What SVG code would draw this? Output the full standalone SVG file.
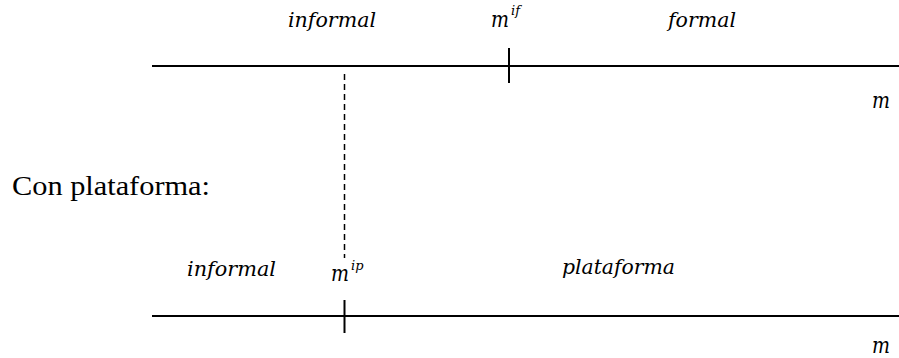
<svg xmlns="http://www.w3.org/2000/svg" width="899" height="358" viewBox="0 0 899 358">
<style>
.ax{stroke:#000;stroke-width:2;fill:none}
.dash{stroke:#000;stroke-width:1.5;stroke-dasharray:6 4;fill:none}
.mi{font-family:"DejaVu Serif","Liberation Serif",serif;font-style:italic;font-size:20px;fill:#000}
.mm{font-family:"DejaVu Serif","Liberation Serif",serif;font-style:italic;font-size:22px;fill:#000}
.sup{font-family:"DejaVu Serif","Liberation Serif",serif;font-style:italic;font-size:13px;fill:#000}
.rm{font-family:"Liberation Serif","DejaVu Serif",serif;font-size:27px;fill:#000}
</style>
<rect width="899" height="358" fill="#fff"/>
<g id="connectors">
<line class="ax" x1="152" y1="66" x2="899" y2="66"/>
<line class="ax" x1="509" y1="48" x2="509" y2="83"/>
<line class="dash" x1="344.5" y1="74" x2="344.5" y2="258"/>
<line class="ax" x1="152" y1="316" x2="899" y2="316"/>
<line class="ax" x1="344.5" y1="300" x2="344.5" y2="333"/>
</g>
<g id="top-axis">
<text class="mi" x="288" y="27" textLength="88" lengthAdjust="spacingAndGlyphs">informal</text>
<text class="mm" x="491" y="27" textLength="18" lengthAdjust="spacingAndGlyphs">m</text>
<text class="sup" x="511" y="15">if</text>
<text class="mi" x="668" y="27" textLength="68" lengthAdjust="spacingAndGlyphs">formal</text>
<text class="mm" x="872" y="108" textLength="18" lengthAdjust="spacingAndGlyphs">m</text>
</g>
<g id="label">
<text class="rm" x="12" y="195" textLength="198" lengthAdjust="spacingAndGlyphs">Con plataforma:</text>
</g>
<g id="bottom-axis">
<text class="mi" x="187" y="276" textLength="89" lengthAdjust="spacingAndGlyphs">informal</text>
<text class="mm" x="331" y="281" textLength="18" lengthAdjust="spacingAndGlyphs">m</text>
<text class="sup" x="351" y="270">ip</text>
<text class="mi" x="562" y="274" textLength="113" lengthAdjust="spacingAndGlyphs">plataforma</text>
<text class="mm" x="872" y="353" textLength="18" lengthAdjust="spacingAndGlyphs">m</text>
</g>
</svg>
